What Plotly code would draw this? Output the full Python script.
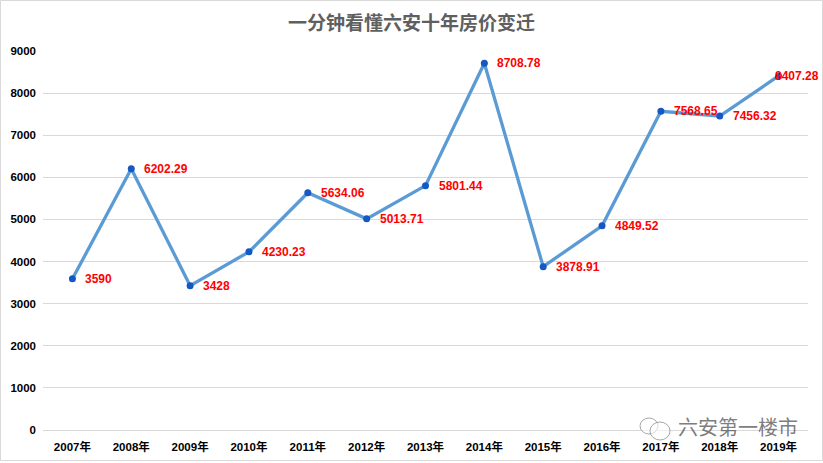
import plotly.graph_objects as go

years = ["2007年","2008年","2009年","2010年","2011年","2012年","2013年","2014年","2015年","2016年","2017年","2018年","2019年"]
prices = [3590, 6202.29, 3428, 4230.23, 5634.06, 5013.71, 5801.44, 8708.78, 3878.91, 4849.52, 7568.65, 7456.32, 8407.28]
labels = ["3590","6202.29","3428","4230.23","5634.06","5013.71","5801.44","8708.78","3878.91","4849.52","7568.65","7456.32","8407.28"]
title = "一分钟看懂六安十年房价变迁"
watermark = "六安第一楼市"
W, H = 823, 463
L, R, T, B = 43, 15, 51, 33
CJK = "Liberation Sans, Noto Sans CJK SC, sans-serif"

fig = go.Figure(go.Scatter(
    x=years, y=prices, mode="lines+markers",
    line=dict(color="#5B9BD5", width=3.3),
    marker=dict(color="#1458C4", size=7),
    hoverinfo="skip",
))

def px(x): return (x-L)/(W-L-R)
def py(y): return (H-B-y)/(H-T-B)

annotations = []
for i, (yr, v, t) in enumerate(zip(years, prices, labels)):
    annotations.append(dict(
        x=yr, y=v, xref="x", yref="y", text=t, showarrow=False,
        xanchor="left", yanchor="middle", xshift=(-6 if i == 12 else 11),
        font=dict(family="Liberation Sans, sans-serif", size=12, color="#FF0000", weight="bold"),
    ))
annotations.append(dict(
    x=px(676), y=py(426), xref="paper", yref="paper", text=watermark,
    showarrow=False, xanchor="left", yanchor="middle",
    font=dict(family="Noto Sans CJK SC", size=20, color="rgba(90,90,90,0.8)"),
))

shapes = [
    dict(type="rect", xref="paper", yref="paper", x0=px(0.5), x1=px(W-0.5), y0=py(0.5), y1=py(H-2.5),
         line=dict(color="#D9D9D9", width=1), fillcolor="rgba(0,0,0,0)", layer="below"),
    dict(type="circle", xref="paper", yref="paper", x0=px(640), x1=px(658), y0=py(434), y1=py(418),
         line=dict(color="rgba(130,130,130,0.7)", width=1), fillcolor="rgba(255,255,255,0.6)"),
    dict(type="circle", xref="paper", yref="paper", x0=px(650), x1=px(670), y0=py(440), y1=py(422),
         line=dict(color="rgba(130,130,130,0.7)", width=1), fillcolor="rgba(255,255,255,0.6)"),
]

fig.update_layout(
    width=W, height=H, autosize=False,
    margin=dict(l=L, r=R, t=T, b=B, pad=0, autoexpand=False),
    paper_bgcolor="white", plot_bgcolor="white", showlegend=False,
    font=dict(family=CJK, color="black"),
    title=dict(text=title, x=411.5/W, xanchor="center", y=1-23/H, yanchor="middle",
               font=dict(family="Noto Sans CJK SC", size=19, color="#5F5F5F", weight="bold")),
    xaxis=dict(type="category", showgrid=False, zeroline=False, showline=False, ticks="",
               ticklabelstandoff=8, automargin=False,
               tickfont=dict(family=CJK, size=11.5, color="black", weight="bold"), range=[-0.5, 12.5]),
    yaxis=dict(range=[0, 9000], dtick=1000, tickformat="d", gridcolor="#D9D9D9", gridwidth=1,
               zeroline=True, zerolinecolor="#D9D9D9", zerolinewidth=1, showline=False, ticks="",
               ticklabelstandoff=6, automargin=False,
               tickfont=dict(family=CJK, size=11.5, color="black", weight="bold")),
    annotations=annotations, shapes=shapes,
)
fig.write_html("out.html", config=dict(displayModeBar=False),
               post_script="document.body.style.margin='0';document.documentElement.style.overflow='hidden';")
